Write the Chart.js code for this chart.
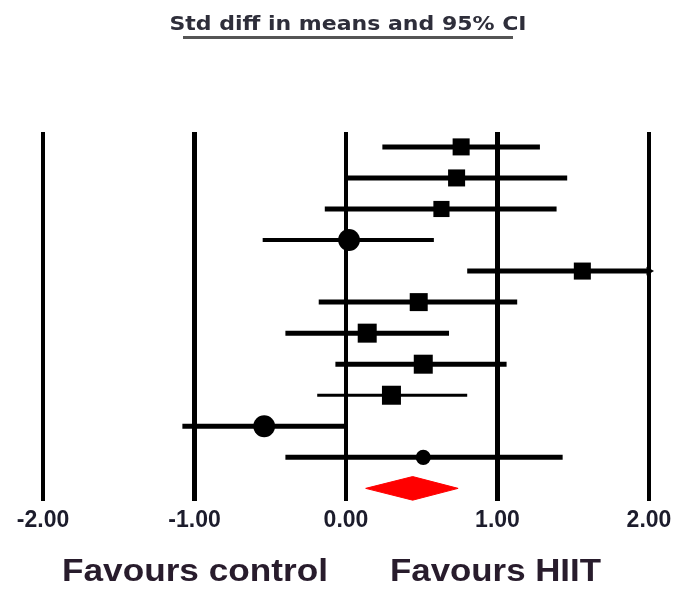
<!DOCTYPE html>
<html>
<head>
<meta charset="utf-8">
<script src="https://cdn.jsdelivr.net/npm/chart.js@4.4.0/dist/chart.umd.min.js"></script>
<style>
  html, body { margin: 0; padding: 0; background: #fff; }
</style>
</head>
<body>
<canvas id="forest" width="691" height="589"></canvas>
<script>
// one row per study, top to bottom, then the pooled diamond
const studies = ['Study 1', 'Study 2', 'Study 3', 'Study 4', 'Study 5', 'Study 6',
                 'Study 7', 'Study 8', 'Study 9', 'Study 10', 'Study 11'];
const estimates = [0.76, 0.73, 0.63, 0.02, 1.56, 0.48, 0.14, 0.51, 0.30, -0.54, 0.51];
const lower     = [0.24, 0.01, -0.14, -0.55, 0.80, -0.18, -0.40, -0.07, -0.19, -1.08, -0.40];
const upper     = [1.28, 1.46, 1.39, 0.58, 2.00, 1.13, 0.68, 1.06, 0.80, 0.00, 1.43];
const weights   = [7.8, 7.8, 7.0, 12.8, 7.8, 8.7, 9.7, 9.7, 9.7, 12.8, 6.2];
const pooledEstimate = 0.44;
const pooledLower = 0.13;
const pooledUpper = 0.74;
const xTicks = [-2, -1, 0, 1, 2];

const X_MIN = xTicks[0], X_MAX = xTicks[xTicks.length - 1];
const pooledRow = studies.length;

// styling
const ciWidth = [5, 5, 5, 4, 5, 5, 5, 5, 3, 5, 5];
const roundMarker = [false, false, false, true, false, false, false, false, false, true, true];

function markerSide(w) {
    return 6.1 * Math.sqrt(w);
}

const datasets = [];

// CI lines
studies.forEach((s, i) => {
    datasets.push({
        label: s,
        data: [{ x: lower[i], y: i }, { x: Math.min(upper[i], X_MAX), y: i }],
        showLine: true,
        borderColor: '#000',
        borderWidth: ciWidth[i],
        borderCapStyle: 'butt',
        pointRadius: 0,
        clip: false
    });
});

// point estimates
datasets.push({
    label: 'estimates',
    data: estimates.map((x, i) => ({ x: x, y: i })),
    backgroundColor: '#000',
    borderColor: '#000',
    borderWidth: 0,
    pointStyle: roundMarker.map(r => r ? 'circle' : 'rect'),
    pointRadius: weights.map((w, i) => roundMarker[i] ? markerSide(w) / 2 : markerSide(w) / Math.SQRT2),
    clip: false
});

// arrows where the CI runs off the axis
const arrowRows = studies.map((s, i) => i).filter(i => upper[i] >= X_MAX);
datasets.push({
    label: 'arrows',
    data: arrowRows.map(i => ({ x: X_MAX, y: i })),
    pointStyle: 'triangle',
    rotation: 90,
    pointRadius: 5,
    backgroundColor: '#000',
    borderWidth: 0,
    clip: false
});

// pooled diamond
const dh = 0.38;
datasets.push({
    label: 'pooled',
    data: [
        { x: pooledLower, y: pooledRow },
        { x: pooledEstimate, y: pooledRow - dh },
        { x: pooledUpper, y: pooledRow },
        { x: pooledEstimate, y: pooledRow + dh },
        { x: pooledLower, y: pooledRow }
    ],
    showLine: true,
    fill: 'shape',
    backgroundColor: '#ff0000',
    borderColor: '#ff0000',
    borderWidth: 1,
    pointRadius: 0
});

// fits a text horizontally into a given width
function fitText(ctx, text, font, x, y, width, align) {
    ctx.save();
    ctx.font = font;
    const w = ctx.measureText(text).width;
    const sx = width / w;
    ctx.translate(align === 'center' ? x - width / 2 : x, y);
    ctx.scale(sx, 1);
    ctx.textAlign = 'left';
    ctx.textBaseline = 'alphabetic';
    ctx.fillText(text, 0, 0);
    ctx.restore();
}

const labelsPlugin = {
    id: 'forestLabels',
    afterDraw(chart) {
        const ctx = chart.ctx;
        ctx.fillStyle = '#2e2e3a';
        fitText(ctx, 'Std diff in means and 95% CI', 'bold 20px "DejaVu Sans Condensed"', 348, 30, 357, 'center');
        ctx.fillStyle = '#555';
        ctx.fillRect(183, 36, 330, 3);

        ctx.fillStyle = '#281c2c';
        fitText(ctx, 'Favours control', 'bold 32px "Liberation Sans"', 62, 581, 266, 'left');
        fitText(ctx, 'Favours HIIT', 'bold 32px "Liberation Sans"', 390, 581, 211, 'left');
    }
};

new Chart(document.getElementById('forest'), {
    type: 'scatter',
    data: { datasets: datasets },
    options: {
        responsive: false,
        animation: false,
        devicePixelRatio: 1,
        layout: { padding: { left: 43, right: 42, top: 132, bottom: 50 } },
        scales: {
            x: {
                type: 'linear',
                min: X_MIN,
                max: X_MAX,
                afterBuildTicks: axis => { axis.ticks = xTicks.map(v => ({ value: v })); },
                ticks: {
                    callback: v => v.toFixed(2),
                    font: { family: '"Liberation Sans"', size: 23, weight: 'bold' },
                    color: '#1c1c2c',
                    padding: 5,
                    maxRotation: 0
                },
                grid: {
                    color: '#000',
                    lineWidth: c => (c.tick && Math.abs(c.tick.value) === 1) ? 5 : 4,
                    drawTicks: false
                },
                border: { display: false }
            },
            y: {
                type: 'linear',
                min: -0.48,
                max: pooledRow + 0.42,
                reverse: true,
                display: false
            }
        },
        plugins: {
            legend: { display: false },
            tooltip: { enabled: false }
        }
    },
    plugins: [labelsPlugin]
});
</script>
</body>
</html>
